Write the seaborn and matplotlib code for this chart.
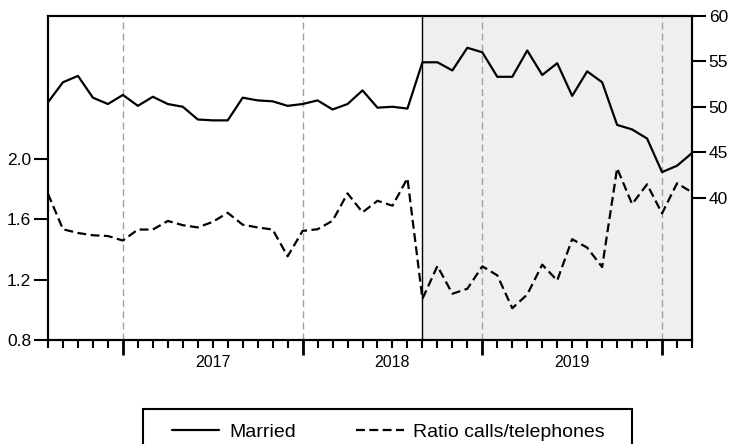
import numpy as np
import pandas as pd
import matplotlib
matplotlib.use("Agg")
import matplotlib.pyplot as plt
import matplotlib.transforms as mtransforms
from matplotlib.patches import Rectangle
import seaborn as sns

# monthly data, Aug 2016 .. Mar 2020
months = pd.date_range("2016-08-01", periods=44, freq="MS")
married = [50.5, 52.7, 53.4, 51.0, 50.3, 51.3, 50.1, 51.1, 50.3, 50.0,
           48.6, 48.5, 48.5, 51.0, 50.7, 50.6, 50.1, 50.3, 50.7, 49.7,
           50.3, 51.8, 49.9, 50.0, 49.8, 54.9, 54.9, 54.0, 56.5, 56.0,
           53.3, 53.3, 56.2, 53.5, 54.8, 51.2, 53.9, 52.7, 48.0, 47.5,
           46.5, 42.8, 43.5, 44.9]
ratio = [1.77, 1.535, 1.51, 1.495, 1.49, 1.46, 1.533, 1.533, 1.59, 1.562,
         1.547, 1.584, 1.644, 1.565, 1.547, 1.533, 1.355, 1.524, 1.535, 1.591,
         1.773, 1.647, 1.724, 1.691, 1.873, 1.073, 1.291, 1.107, 1.14, 1.289,
         1.229, 1.011, 1.102, 1.30, 1.195, 1.469, 1.413, 1.284, 1.94, 1.702,
         1.833, 1.64, 1.84, 1.78]
years = [2017, 2018, 2019]
shade_start = "2018-09-01"

df = pd.DataFrame({"t": np.arange(len(months)), "month": months,
                   "Married": married, "Ratio": ratio})

sns.set_style("ticks")
plt.rcParams["font.family"] = ["Liberation Sans", "DejaVu Sans"]
plt.rcParams["text.color"] = "black"
plt.rcParams["xtick.color"] = "black"
plt.rcParams["ytick.color"] = "black"

fig = plt.figure(figsize=(7.3, 4.44), dpi=100)
ax = fig.add_axes([48/730, 1-340/444, 644/730, 324/444])
ax2 = ax.twinx()

# shaded period
s0 = df.loc[df["month"] == pd.Timestamp(shade_start), "t"].iloc[0]
ax.axvspan(s0, df["t"].iloc[-1], color="#efefef", zorder=0, lw=0)
ax.axvline(s0, color="black", lw=1, zorder=0.6)

sns.lineplot(data=df, x="t", y="Ratio", ax=ax, color="black", lw=1.6,
             dashes=False, label="Ratio calls/telephones", zorder=3)
ax.lines[-1].set_dashes((4, 2))
sns.lineplot(data=df, x="t", y="Married", ax=ax2, color="black", lw=1.6,
             label="Married", zorder=3)
for a in (ax, ax2):
    if a.get_legend():
        a.get_legend().remove()

ax.set_xlim(0, len(months) - 1)
ax.set_ylim(0.8, 2.95)
ax2.set_ylim(24.3, 60)
ax.set_yticks([0.8, 1.2, 1.6, 2.0])
ax.set_yticklabels(["0.8", "1.2", "1.6", "2.0"])
ax2.set_yticks([40, 45, 50, 55, 60])
ax.set_xlabel("")
ax.set_ylabel("")
ax2.set_ylabel("")

# year starts as major ticks, months as minor
jan = df.loc[df["month"].dt.month == 1, "t"].values
ax.set_xticks(jan)
ax.set_xticklabels([""] * len(jan))
ax.set_xticks(df["t"].values, minor=True)
ax.tick_params(axis="x", which="major", direction="out", length=11, width=2)
ax.tick_params(axis="x", which="minor", direction="out", length=6, width=1.5)
ax.tick_params(axis="y", direction="out", length=10, width=1.5,
               labelsize=12.5, pad=2, colors="black")
ax2.tick_params(axis="y", direction="out", length=10, width=1.5,
                labelsize=12.5, pad=2, colors="black")
ax.grid(axis="x", which="major", color="#a0a0a0", lw=1, ls=(0, (5, 3)))
ax.set_axisbelow(True)

trans = mtransforms.blended_transform_factory(ax.transData, ax.transAxes)
for y in years:
    mid = df.loc[(df["month"].dt.year == y) & (df["month"].dt.month == 7), "t"].iloc[0]
    ax.text(mid, -0.068, str(y), transform=trans, ha="center", va="center",
            fontsize=11.5, color="black")

for a in (ax, ax2):
    for sp in a.spines.values():
        sp.set_visible(True)
        sp.set_linewidth(1.5)
        sp.set_color("black")

h1, l1 = ax2.get_legend_handles_labels()
h2, l2 = ax.get_legend_handles_labels()
fig.legend(h1 + h2, l1 + l2, loc="center left",
           bbox_to_anchor=(162/730, 1-432/444), ncol=2, frameon=False,
           fontsize=14, handlelength=2.45, handletextpad=0.5,
           columnspacing=3.1, borderpad=0, labelcolor="black")
fig.patches.append(Rectangle((143/730, -0.1), (632-143)/730, 0.1 + 1-409/444,
                             transform=fig.transFigure, fill=False,
                             lw=1.5, ec="black"))

fig.savefig("out.png", dpi=100)
